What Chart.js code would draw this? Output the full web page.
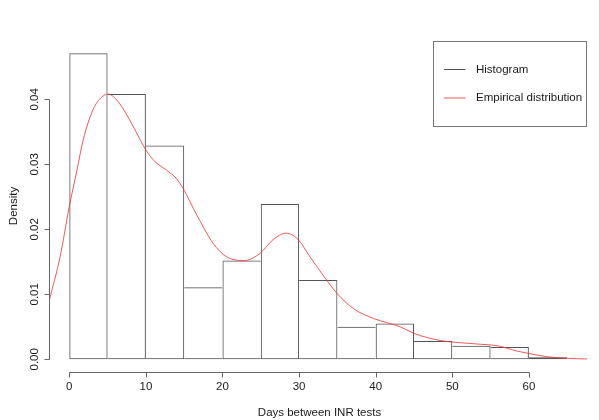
<!DOCTYPE html>
<html>
<head>
<meta charset="utf-8">
<script src="https://cdn.jsdelivr.net/npm/chart.js@4.4.1/dist/chart.umd.min.js"></script>
<style>
  html, body { margin: 0; padding: 0; background: #fff; }
  canvas { display: block; }
</style>
</head>
<body>
<canvas id="histChart" width="600" height="420"></canvas>
<script>
// histogram bins (5 days wide) and their densities
const binStarts = [0, 5, 10, 15, 20, 25, 30, 35, 40, 45, 50, 55, 60];
const binWidth = 5;
const densities = [0.0471, 0.0408, 0.0329, 0.0111, 0.0152, 0.0239, 0.0122, 0.0050, 0.0055, 0.0028, 0.0021, 0.0019, 0.0003];

// empirical (kernel) density curve
const curveX = [-2.6, -1.2, 0, 1.0, 1.8, 3.1, 4.2, 5.1, 6.2, 7.5, 8.8, 10.0, 11.2, 12.7, 14.0, 15.0, 16.2, 17.1, 18.8, 20.5,
  22.9, 24.9, 26.6, 28.3, 29.9, 31.4, 33.4, 34.9, 37.1, 39.7, 43.2, 45.0, 48.4, 52.8, 56.3, 58.0, 60.0, 62.4, 65.0, 67.6];
const curveY = [0.0091, 0.0158, 0.0235, 0.0291, 0.0337, 0.0384, 0.0403, 0.0408, 0.0399, 0.0376, 0.0348, 0.0322, 0.0304, 0.0291, 0.0278, 0.0260, 0.0232, 0.0212, 0.0178, 0.0158,
  0.0152, 0.0163, 0.0184, 0.0194, 0.0184, 0.0158, 0.0125, 0.0102, 0.0078, 0.0063, 0.0050, 0.0040, 0.0029, 0.0024, 0.0020, 0.0014, 0.0009, 0.0004, 0.00015, 0.00005];

const xTicks = [0, 10, 20, 30, 40, 50, 60];
const yTicks = [0, 0.01, 0.02, 0.03, 0.04];

const FONT = 'Liberation Sans, Arial, sans-serif';
const TEXT = '#1a1a1a';
const AXIS = '#666';

// shared edge between two bins is drawn once, by the taller bin
function binBorder(c) {
  const i = c.dataIndex, n = densities.length;
  return {
    top: 1,
    bottom: 1,
    left: (i === 0 || densities[i] >= densities[i - 1]) ? 1 : 0,
    right: (i === n - 1 || densities[i] > densities[i + 1]) ? 1 : 0
  };
}

// R style axes + legend, drawn from the chart scales
const rStyle = {
  id: 'rStyle',
  afterDraw(chart) {
    const c = chart.ctx;
    const xs = chart.scales.x, ys = chart.scales.y;
    const area = chart.chartArea;
    c.save();
    c.strokeStyle = AXIS;
    c.lineWidth = 1;

    // x axis
    const ay = Math.round(area.bottom) + 0.5;
    c.beginPath();
    c.moveTo(Math.round(xs.getPixelForValue(xTicks[0])) + 0.5, ay);
    c.lineTo(Math.round(xs.getPixelForValue(xTicks[xTicks.length - 1])) + 0.5, ay);
    xTicks.forEach(v => {
      const px = Math.round(xs.getPixelForValue(v)) + 0.5;
      c.moveTo(px, ay);
      c.lineTo(px, ay + 5);
    });
    c.stroke();

    // y axis
    const ax = Math.round(area.left) + 0.5;
    c.beginPath();
    c.moveTo(ax, Math.round(ys.getPixelForValue(yTicks[0])) + 0.5);
    c.lineTo(ax, Math.round(ys.getPixelForValue(yTicks[yTicks.length - 1])) + 0.5);
    yTicks.forEach(v => {
      const py = Math.round(ys.getPixelForValue(v)) + 0.5;
      c.moveTo(ax, py);
      c.lineTo(ax - 5, py);
    });
    c.stroke();

    // y tick labels, rotated like R
    c.fillStyle = TEXT;
    c.font = '11.5px ' + FONT;
    c.textAlign = 'center';
    c.textBaseline = 'alphabetic';
    yTicks.forEach(v => {
      c.save();
      c.translate(area.left - 11.5, ys.getPixelForValue(v));
      c.rotate(-Math.PI / 2);
      c.fillText(v.toFixed(2), 0, 0);
      c.restore();
    });

    // legend box
    const box = { x: 433.5, y: 41.5, w: 153, h: 85 };
    c.strokeStyle = '#777';
    c.strokeRect(box.x, box.y, box.w, box.h);
    chart.data.datasets.forEach(ds => {
      const idx = ds.type === 'line' ? 1 : 0;
      const ry = box.y + 28 + idx * 28.5;
      c.strokeStyle = ds.legendColor;
      c.beginPath();
      c.moveTo(box.x + 10.5, ry);
      c.lineTo(box.x + 32, ry);
      c.stroke();
      c.fillStyle = TEXT;
      c.textAlign = 'left';
      c.textBaseline = 'middle';
      c.fillText(ds.label, box.x + 42.5, ry);
    });

    // faint frame line at the right edge
    c.strokeStyle = '#d0d0d0';
    c.beginPath();
    c.moveTo(599.5, 0);
    c.lineTo(599.5, 420);
    c.stroke();
    c.restore();
  }
};

const ctx = document.getElementById('histChart').getContext('2d');

const histChart = new Chart(ctx, {
  type: 'bar',
  data: {
    datasets: [{
      type: 'line',
      label: 'Empirical distribution',
      data: curveX.map((x, i) => ({ x: x, y: curveY[i] })),
      borderColor: 'rgba(238, 60, 60, 0.85)',
      legendColor: 'rgba(238, 60, 60, 0.85)',
      borderWidth: 1,
      pointRadius: 0,
      fill: false,
      cubicInterpolationMode: 'monotone',
      order: 0
    }, {
      type: 'bar',
      label: 'Histogram',
      data: binStarts.map((b, i) => ({ x: b + binWidth / 2, y: densities[i] })),
      backgroundColor: 'rgba(255, 255, 255, 0)',
      borderColor: '#555',
      legendColor: '#555',
      borderWidth: binBorder,
      borderSkipped: false,
      inflateAmount: 0,
      barPercentage: 1,
      categoryPercentage: 1,
      grouped: false,
      order: 1
    }]
  },
  options: {
    responsive: false,
    animation: false,
    events: [],
    layout: { padding: { left: 0, right: 10, top: 40, bottom: 0 } },
    plugins: {
      legend: { display: false },
      tooltip: { enabled: false }
    },
    scales: {
      x: {
        type: 'linear',
        min: -2.65,
        max: 67.98,
        offset: false,
        grid: { display: false, drawTicks: false },
        border: { display: false },
        afterBuildTicks: s => { s.ticks = xTicks.map(v => ({ value: v })); },
        afterFit: s => { s.height = 48; },
        ticks: {
          color: TEXT,
          font: { family: FONT, size: 11.5 },
          padding: 8,
          maxRotation: 0,
          callback: v => String(v)
        },
        title: {
          display: true,
          text: 'Days between INR tests',
          color: TEXT,
          font: { family: FONT, size: 11.5 },
          padding: { top: 0, bottom: 0 }
        }
      },
      y: {
        min: -0.00195,
        max: 0.04912,
        grid: { display: false, drawTicks: false },
        border: { display: false },
        afterBuildTicks: s => { s.ticks = yTicks.map(v => ({ value: v })); },
        afterFit: s => { s.width = 49; },
        ticks: { display: false },
        title: {
          display: true,
          text: 'Density',
          color: TEXT,
          font: { family: FONT, size: 11.5 },
          padding: { top: 7, bottom: 0 }
        }
      }
    }
  },
  plugins: [rStyle]
});
</script>
</body>
</html>
